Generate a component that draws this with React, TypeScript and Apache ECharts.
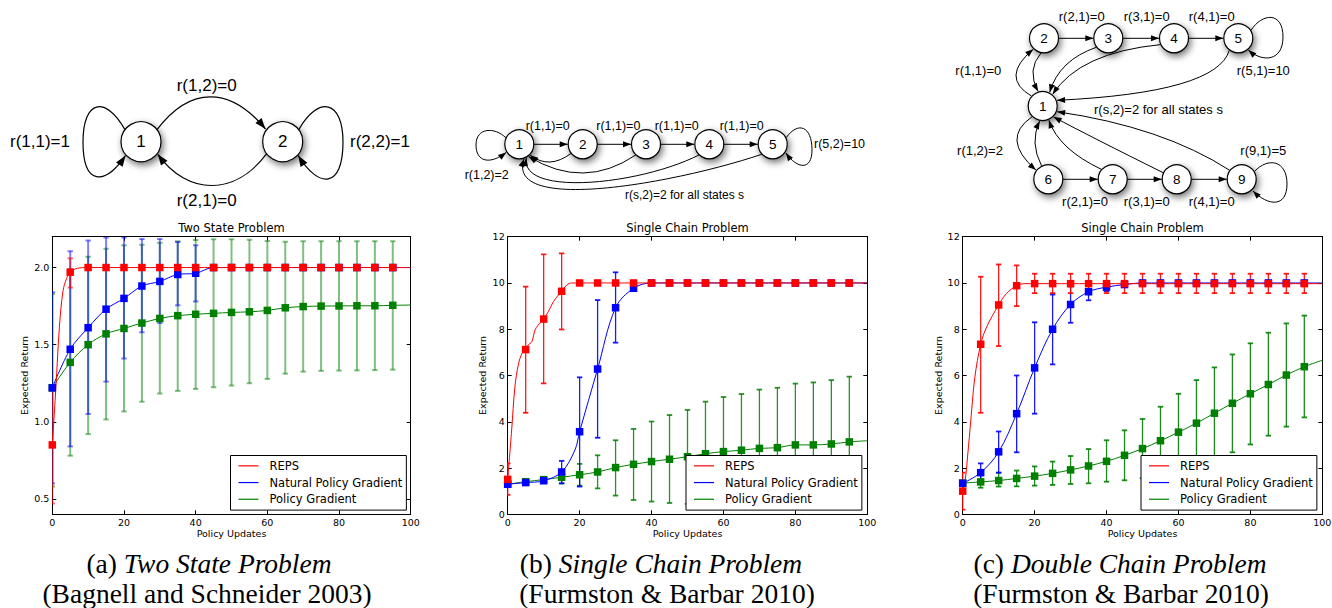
import React, { useEffect, useRef } from "react";
import * as echarts from "echarts";

// ---------------- data ----------------
const X_MARKS = [0, 5, 10, 15, 20, 25, 30, 35, 40, 45, 50, 55, 60, 65, 70, 75, 80, 85, 90, 95];
const X_TICKS = [0, 20, 40, 60, 80, 100];
const TWO_Y_TICKS = [0.5, 1.0, 1.5, 2.0];
const CHAIN_Y_TICKS = [0, 2, 4, 6, 8, 10, 12];
const ALGORITHMS = ["REPS", "Natural Policy Gradient", "Policy Gradient"];
const PLOT_TITLES = ["Two State Problem", "Single Chain Problem", "Single Chain Problem"];
const CAPTION_LETTERS = ["(a) ", "(b) ", "(c) "];
const CAPTION_NAMES = ["Two State Problem", "Single Chain Problem", "Double Chain Problem"];
const CAPTION_REFS = ["(Bagnell and Schneider 2003)", "(Furmston & Barbar 2010)", "(Furmston & Barbar 2010)"];

// Two State Problem
const TWO_REPS_MEAN = [0.85, 1.97, 2.0, 2.0, 2.0, 2.0, 2.0, 2.0, 2.0, 2.0, 2.0, 2.0, 2.0, 2.0, 2.0, 2.0, 2.0, 2.0, 2.0, 2.0];
const TWO_REPS_LO = [0.47, 1.87, 2.0, 2.0, 2.0, 2.0, 2.0, 2.0, 2.0, 2.0, 2.0, 2.0, 2.0, 2.0, 2.0, 2.0, 2.0, 2.0, 2.0, 2.0];
const TWO_REPS_HI = [1.23, 2.06, 2.0, 2.0, 2.0, 2.0, 2.0, 2.0, 2.0, 2.0, 2.0, 2.0, 2.0, 2.0, 2.0, 2.0, 2.0, 2.0, 2.0, 2.0];
const TWO_NPG_MEAN = [1.22, 1.47, 1.61, 1.73, 1.8, 1.88, 1.91, 1.955, 1.963, 2.0, 2.0, 2.0, 2.0, 2.0, 2.0, 2.0, 2.0, 2.0, 2.0, 2.0];
const TWO_NPG_LO = [0.6, 0.84, 1.05, 1.26, 1.41, 1.58, 1.64, 1.755, 1.78, 2.0, 2.0, 2.0, 2.0, 2.0, 2.0, 2.0, 2.0, 2.0, 2.0, 2.0];
const TWO_NPG_HI = [1.84, 2.105, 2.175, 2.195, 2.195, 2.185, 2.185, 2.165, 2.145, 2.0, 2.0, 2.0, 2.0, 2.0, 2.0, 2.0, 2.0, 2.0, 2.0, 2.0];
const TWO_PG_MEAN = [1.22, 1.385, 1.5, 1.57, 1.605, 1.64, 1.67, 1.688, 1.697, 1.703, 1.709, 1.713, 1.722, 1.739, 1.747, 1.75, 1.751, 1.752, 1.752, 1.755];
const TWO_PG_LO = [0.58, 0.78, 0.92, 1.015, 1.067, 1.13, 1.183, 1.2, 1.213, 1.224, 1.235, 1.25, 1.278, 1.312, 1.325, 1.33, 1.332, 1.333, 1.335, 1.338];
const TWO_PG_HI = [1.83, 1.99, 2.07, 2.122, 2.144, 2.148, 2.16, 2.17, 2.178, 2.183, 2.183, 2.18, 2.172, 2.168, 2.17, 2.17, 2.17, 2.17, 2.17, 2.17];
const TWO_REPS_CURVE_EXTRA = [[1, 1.22], [2, 1.62], [3, 1.85], [4, 1.93], [7, 1.995], [100, 2.0]];
const TWO_NPG_CURVE_EXTRA = [[100, 2.0]];
const TWO_PG_CURVE_EXTRA = [[100, 1.757]];

// Single Chain Problem
const SINGLE_REPS_MEAN = [1.51, 7.12, 8.44, 9.64, 10, 10, 10, 10, 10, 10, 10, 10, 10, 10, 10, 10, 10, 10, 10, 10];
const SINGLE_REPS_LO = [0.84, 4.39, 5.66, 7.99, 10, 10, 10, 10, 10, 10, 10, 10, 10, 10, 10, 10, 10, 10, 10, 10];
const SINGLE_REPS_HI = [2.2, 9.84, 11.24, 11.28, 10, 10, 10, 10, 10, 10, 10, 10, 10, 10, 10, 10, 10, 10, 10, 10];
const SINGLE_NPG_MEAN = [1.3, 1.37, 1.45, 1.83, 3.57, 6.28, 8.93, 9.77, 10, 10, 10, 10, 10, 10, 10, 10, 10, 10, 10, 10];
const SINGLE_NPG_LO = [1.27, 1.32, 1.39, 1.34, 1.2, 3.31, 7.42, 9.68, 10, 10, 10, 10, 10, 10, 10, 10, 10, 10, 10, 10];
const SINGLE_NPG_HI = [1.33, 1.42, 1.51, 2.31, 5.92, 9.26, 10.46, 9.86, 10, 10, 10, 10, 10, 10, 10, 10, 10, 10, 10, 10];
const SINGLE_PG_MEAN = [1.3, 1.41, 1.5, 1.6, 1.71, 1.83, 2.02, 2.16, 2.28, 2.38, 2.49, 2.62, 2.71, 2.77, 2.85, 2.88, 3.0, 3.0, 3.04, 3.13];
const SINGLE_PG_LO = [1.26, 1.32, 1.4, 1.33, 1.24, 1.12, 0.81, 0.62, 0.55, 0.49, 0.45, 0.39, 0.33, 0.33, 0.31, 0.29, 0.35, 0.3, 0.3, 0.31];
const SINGLE_PG_HI = [1.34, 1.5, 1.6, 1.87, 2.18, 2.55, 3.2, 3.69, 4.01, 4.29, 4.51, 4.87, 5.07, 5.2, 5.39, 5.47, 5.65, 5.7, 5.8, 5.95];
const SINGLE_REPS_CURVE_EXTRA = [[1.1, 3.64], [2, 5.5], [3, 6.5], [4, 6.96], [5.7, 7.32], [6.7, 7.46], [7.6, 7.97], [8.5, 8.18], [11.3, 8.76], [12.7, 9.19], [14.1, 9.48], [16.4, 9.91], [17.8, 10.0], [100, 10.0]];
const SINGLE_NPG_CURVE_EXTRA = [[18.7, 2.78], [100, 10.0]];
const SINGLE_PG_CURVE_EXTRA = [[100, 3.18]];

// Double Chain Problem
const DOUBLE_REPS_MEAN = [1.0, 7.35, 9.05, 9.88, 9.97, 9.97, 9.97, 9.97, 9.97, 9.97, 9.97, 9.97, 9.97, 9.97, 9.97, 9.97, 9.97, 9.97, 9.97, 9.97];
const DOUBLE_REPS_LO = [0.2, 4.39, 7.27, 9.0, 9.56, 9.56, 9.56, 9.56, 9.56, 9.56, 9.56, 9.56, 9.56, 9.56, 9.56, 9.56, 9.56, 9.56, 9.56, 9.56];
const DOUBLE_REPS_HI = [1.8, 10.27, 10.8, 10.76, 10.4, 10.4, 10.4, 10.4, 10.4, 10.4, 10.4, 10.4, 10.4, 10.4, 10.4, 10.4, 10.4, 10.4, 10.4, 10.4];
const DOUBLE_NPG_MEAN = [1.34, 1.8, 2.7, 4.35, 6.33, 8.0, 9.07, 9.62, 9.82, 9.93, 10, 10, 10, 10, 10, 10, 10, 10, 10, 10];
const DOUBLE_NPG_LO = [1.3, 1.4, 1.8, 2.68, 4.35, 6.48, 8.28, 9.25, 9.65, 9.85, 9.9, 9.9, 9.9, 9.9, 9.9, 9.9, 9.9, 9.9, 9.9, 9.9];
const DOUBLE_NPG_HI = [1.38, 2.2, 3.58, 6.0, 8.3, 9.5, 9.85, 10.0, 9.99, 10.01, 10.1, 10.1, 10.1, 10.1, 10.1, 10.1, 10.1, 10.1, 10.1, 10.1];
const DOUBLE_PG_MEAN = [1.35, 1.4, 1.46, 1.55, 1.65, 1.77, 1.92, 2.09, 2.29, 2.55, 2.84, 3.18, 3.55, 3.94, 4.37, 4.8, 5.21, 5.61, 6.02, 6.38];
const DOUBLE_PG_LO = [1.3, 1.15, 1.2, 1.21, 1.24, 1.27, 1.31, 1.34, 1.41, 1.47, 1.56, 1.72, 1.9, 2.08, 2.38, 2.68, 3.02, 3.4, 3.79, 4.19];
const DOUBLE_PG_HI = [1.4, 1.7, 1.8, 1.89, 2.07, 2.28, 2.52, 2.82, 3.2, 3.63, 4.12, 4.65, 5.21, 5.8, 6.35, 6.91, 7.39, 7.85, 8.25, 8.59];
const DOUBLE_REPS_CURVE_EXTRA = [[0.6, 1.34], [1.6, 2.92], [2.5, 4.51], [3.4, 5.95], [6.7, 8.11], [12.2, 9.55], [17.3, 9.97], [100, 9.97]];
const DOUBLE_NPG_CURVE_EXTRA = [[100, 10.0]];
const DOUBLE_PG_CURVE_EXTRA = [[100, 6.66]];

// ---------------- styling / layout ----------------
const COLORS = ["#ff0000", "#0000ff", "#008000"];
const ERR_COLORS = [
  ["rgba(255,0,0,0.55)", "rgba(0,0,255,0.5)", "rgba(0,128,0,0.5)"],
  ["rgba(255,0,0,0.9)", "rgba(0,0,255,0.9)", "rgba(0,128,0,0.85)"],
  ["rgba(255,0,0,0.9)", "rgba(0,0,255,0.9)", "rgba(0,128,0,0.9)"],
];
const FONT = "DejaVu Sans";
const GRID_LEFT = [52.3, 507.7, 962.7];
const GRID_W = [358.4, 359.6, 359.6];
const GRID_TOP = 236.7;
const GRID_H = 277.6;
const YNAME_GAP = [22.5, 20, 19];
const LEGEND_LEFT = [230.5, 686, 1141];

type Pt = [number, number];

const PANELS = [
  {
    yMin: 0.4, yMax: 2.2, yTicks: TWO_Y_TICKS, fmt: (v: number) => v.toFixed(1), stem: 2, cap: 2,
    algos: [
      { mean: TWO_REPS_MEAN, lo: TWO_REPS_LO, hi: TWO_REPS_HI, extra: TWO_REPS_CURVE_EXTRA },
      { mean: TWO_NPG_MEAN, lo: TWO_NPG_LO, hi: TWO_NPG_HI, extra: TWO_NPG_CURVE_EXTRA },
      { mean: TWO_PG_MEAN, lo: TWO_PG_LO, hi: TWO_PG_HI, extra: TWO_PG_CURVE_EXTRA },
    ],
  },
  {
    yMin: 0, yMax: 12, yTicks: CHAIN_Y_TICKS, fmt: (v: number) => String(v), stem: 1.3, cap: 1.8,
    algos: [
      { mean: SINGLE_REPS_MEAN, lo: SINGLE_REPS_LO, hi: SINGLE_REPS_HI, extra: SINGLE_REPS_CURVE_EXTRA },
      { mean: SINGLE_NPG_MEAN, lo: SINGLE_NPG_LO, hi: SINGLE_NPG_HI, extra: SINGLE_NPG_CURVE_EXTRA },
      { mean: SINGLE_PG_MEAN, lo: SINGLE_PG_LO, hi: SINGLE_PG_HI, extra: SINGLE_PG_CURVE_EXTRA },
    ],
  },
  {
    yMin: 0, yMax: 12, yTicks: CHAIN_Y_TICKS, fmt: (v: number) => String(v), stem: 1.3, cap: 1.8,
    algos: [
      { mean: DOUBLE_REPS_MEAN, lo: DOUBLE_REPS_LO, hi: DOUBLE_REPS_HI, extra: DOUBLE_REPS_CURVE_EXTRA },
      { mean: DOUBLE_NPG_MEAN, lo: DOUBLE_NPG_LO, hi: DOUBLE_NPG_HI, extra: DOUBLE_NPG_CURVE_EXTRA },
      { mean: DOUBLE_PG_MEAN, lo: DOUBLE_PG_LO, hi: DOUBLE_PG_HI, extra: DOUBLE_PG_CURVE_EXTRA },
    ],
  },
];

function errorBarSeries(gi: number, rows: number[][], color: string, stemW: number, capW: number) {
  const capHalf = 2.7;
  return {
    type: "custom",
    xAxisIndex: gi,
    yAxisIndex: gi,
    data: rows,
    clip: true,
    silent: true,
    z: 2,
    encode: { x: 0, y: [1, 2] },
    renderItem: (_params: any, api: any) => {
      const x = api.value(0);
      const a = api.coord([x, api.value(1)]);
      const b = api.coord([x, api.value(2)]);
      return {
        type: "group",
        children: [
          { type: "line", shape: { x1: a[0], y1: a[1], x2: b[0], y2: b[1] }, style: { stroke: color, lineWidth: stemW } },
          { type: "line", shape: { x1: a[0] - capHalf, y1: a[1], x2: a[0] + capHalf, y2: a[1] }, style: { stroke: color, lineWidth: capW } },
          { type: "line", shape: { x1: b[0] - capHalf, y1: b[1], x2: b[0] + capHalf, y2: b[1] }, style: { stroke: color, lineWidth: capW } },
        ],
      };
    },
  };
}

function buildSeries() {
  const series: any[] = [];
  PANELS.forEach((p, gi) => {
    [2, 1, 0].forEach((ai) => {
      const al = p.algos[ai];
      const rows = X_MARKS.map((x, i) => [x, al.lo[i], al.hi[i]]).filter((r) => r[2] - r[1] > 0.001);
      series.push(errorBarSeries(gi, rows, ERR_COLORS[gi][ai], p.stem, p.cap));
    });
    [2, 1, 0].forEach((ai) => {
      const al = p.algos[ai];
      const pts: number[][] = X_MARKS.map((x, i) => [x, al.mean[i]]).concat(al.extra as number[][]);
      pts.sort((a, b) => a[0] - b[0]);
      series.push({
        type: "line",
        name: ALGORITHMS[ai],
        xAxisIndex: gi,
        yAxisIndex: gi,
        data: pts,
        smooth: 0.35,
        showSymbol: false,
        symbol: "none",
        color: COLORS[ai],
        lineStyle: { color: COLORS[ai], width: 1 },
        z: 3,
        silent: true,
        clip: true,
      });
    });
    [2, 1, 0].forEach((ai) => {
      const al = p.algos[ai];
      series.push({
        type: "scatter",
        xAxisIndex: gi,
        yAxisIndex: gi,
        data: X_MARKS.map((x, i) => [x, al.mean[i]]),
        symbol: "rect",
        symbolSize: 7.5,
        itemStyle: { color: COLORS[ai], opacity: 1 },
        z: 4,
        silent: true,
      });
    });
  });
  return series;
}

// ---------------- diagram helpers ----------------
function head(tip: Pt, from: Pt, len: number, w: number) {
  const dx = tip[0] - from[0];
  const dy = tip[1] - from[1];
  const d = Math.hypot(dx, dy) || 1;
  const ux = dx / d, uy = dy / d;
  const bx = tip[0] - ux * len, by = tip[1] - uy * len;
  return {
    type: "polygon",
    silent: true,
    z: 20,
    shape: { points: [tip, [bx - (uy * w) / 2, by + (ux * w) / 2], [bx + (uy * w) / 2, by - (ux * w) / 2]] },
    style: { fill: "#000" },
  };
}
function curve(p0: Pt, c1: Pt, c2: Pt, p3: Pt, lw: number) {
  return { type: "bezierCurve", silent: true, z: 19, shape: { x1: p0[0], y1: p0[1], x2: p3[0], y2: p3[1], cpx1: c1[0], cpy1: c1[1], cpx2: c2[0], cpy2: c2[1] }, style: { stroke: "#000", fill: "none", lineWidth: lw } };
}
function quadArrow(p0: Pt, m: Pt, p2: Pt, len: number, w: number, lw: number) {
  const c: Pt = [2 * m[0] - (p0[0] + p2[0]) / 2, 2 * m[1] - (p0[1] + p2[1]) / 2];
  return [
    { type: "bezierCurve", silent: true, z: 19, shape: { x1: p0[0], y1: p0[1], x2: p2[0], y2: p2[1], cpx1: c[0], cpy1: c[1] }, style: { stroke: "#000", fill: "none", lineWidth: lw } },
    head(p2, c, len, w),
  ];
}
function cubicArrow(p0: Pt, c1: Pt, c2: Pt, p3: Pt, len: number, w: number, lw: number) {
  return [curve(p0, c1, c2, p3, lw), head(p3, c2, len, w)];
}
// self loop drawn as two cubic pieces meeting at the outermost point m
function loopArrow(p0: Pt, a1: Pt, a2: Pt, m: Pt, b1: Pt, b2: Pt, tip: Pt, len: number, w: number, lw: number) {
  return [curve(p0, a1, a2, m, lw), curve(m, b1, b2, tip, lw), head(tip, b2, len, w)];
}
function straightArrow(p0: Pt, p2: Pt, len: number, w: number, lw: number) {
  return [
    { type: "line", silent: true, z: 19, shape: { x1: p0[0], y1: p0[1], x2: p2[0], y2: p2[1] }, style: { stroke: "#000", lineWidth: lw } },
    head(p2, p0, len, w),
  ];
}
function node(cx: number, cy: number, r: number, label: string, fs: number) {
  return [
    {
      type: "circle", silent: true, z: 21,
      shape: { cx, cy, r },
      style: { fill: "#fff", stroke: "#000", lineWidth: 1.2, shadowBlur: 7, shadowColor: "rgba(0,0,0,0.55)", shadowOffsetX: 2, shadowOffsetY: 3 },
    },
    { type: "text", silent: true, z: 22, x: cx, y: cy, style: { text: label, fontFamily: "Liberation Sans", fontSize: fs, fill: "#000", align: "center", verticalAlign: "middle" } },
  ];
}
function label(x: number, y: number, text: string, fs: number, align = "center") {
  return { type: "text", silent: true, z: 22, x, y, style: { text, fontFamily: "Liberation Sans", fontSize: fs, fill: "#000", align, verticalAlign: "middle" } };
}

function buildDiagrams() {
  const els: any[] = [];
  // ---- diagram (a): two states ----
  els.push(
    ...cubicArrow([157, 129.7], [190, 86], [230, 86], [265.5, 129], 11, 8, 1.2),
    ...cubicArrow([266.7, 153.7], [235, 196], [188, 196], [157.8, 154.3], 11, 8, 1.2),
    ...loopArrow([125, 129.7], [105, 95], [83, 100], [83, 142], [83, 186], [105, 186], [125.5, 155.5], 11, 8, 1.2),
    ...loopArrow([298.7, 129.7], [318.7, 95], [343, 100], [343, 142], [343, 189], [318.7, 189], [298.2, 155.5], 11, 8, 1.2),
    ...node(141, 141.7, 20, "1", 17),
    ...node(282.7, 141.7, 20, "2", 17),
    label(206.7, 85, "r(1,2)=0", 17),
    label(206.7, 200, "r(2,1)=0", 17),
    label(40, 141.7, "r(1,1)=1", 17),
    label(380, 141.7, "r(2,2)=1", 17)
  );

  // ---- diagram (b): single chain ----
  const by = 144.3;
  const bx = [519.3, 582.7, 646, 709.3, 772.7];
  const r2 = 14.5;
  for (let i = 0; i < 4; i++) els.push(...straightArrow([bx[i] + r2, by], [bx[i + 1] - r2 - 0.5, by], 8, 6, 1));
  els.push(
    ...loopArrow([505.8, 137.7], [495, 127], [476, 127], [476, 145], [476, 162], [490, 165], [506.1, 152.5], 8, 6, 1),
    ...loopArrow([786.2, 137.7], [798, 121], [812, 126], [812, 150], [812, 171], [797, 169], [785.9, 153], 8, 6, 1),
    ...quadArrow([571.2, 153.3], [550, 162], [530.2, 155.2], 8, 6, 1),
    ...quadArrow([636, 154.8], [583, 173], [528.6, 156.5], 8, 6, 1),
    ...cubicArrow([699.3, 154.8], [640, 185], [520, 197], [526.3, 158.1], 8, 6, 1),
    ...cubicArrow([761.7, 154.3], [680, 182], [505, 215], [524, 159], 8, 6, 1)
  );
  bx.forEach((x, i) => els.push(...node(x, by, r2, String(i + 1), 13.5)));
  els.push(
    label(547.7, 125.7, "r(1,1)=0", 12.5),
    label(618.3, 125.7, "r(1,1)=0", 12.5),
    label(676.7, 125.7, "r(1,1)=0", 12.5),
    label(741.7, 125.7, "r(1,1)=0", 12.5),
    label(814, 144.3, "r(5,2)=10", 12.5, "left"),
    label(486.7, 175, "r(1,2)=2", 12.5),
    label(625, 195, "r(s,2)=2 for all states s", 12, "left")
  );

  // ---- diagram (c): double chain ----
  const N: Record<number, Pt> = {
    1: [1042.7, 106], 2: [1044, 38.3], 3: [1108.3, 38.3], 4: [1174, 38.3], 5: [1238.3, 38.3],
    6: [1048.3, 179.3], 7: [1112.7, 179.3], 8: [1176.7, 179.3], 9: [1241.7, 179.3],
  };
  [[2, 3], [3, 4], [4, 5], [6, 7], [7, 8], [8, 9]].forEach(([a, b]) =>
    els.push(...straightArrow([N[a][0] + r2, N[a][1]], [N[b][0] - r2 - 0.5, N[b][1]], 8, 6, 1))
  );
  els.push(
    ...quadArrow([1031.5, 96.1], [1016, 75], [1033.2, 49.3], 8, 6, 1),
    ...quadArrow([1041, 53], [1033, 71], [1038, 91.3], 8, 6, 1),
    ...quadArrow([1096.3, 47.3], [1066, 65], [1049.7, 92.2], 8, 6, 1),
    ...quadArrow([1160.5, 44.6], [1093, 61], [1052.8, 94.2], 8, 6, 1),
    ...quadArrow([1229.3, 50.3], [1180, 84], [1057.1, 100.3], 8, 6, 1),
    ...loopArrow([1251, 30.3], [1262, 13], [1283, 11], [1283, 37], [1283, 61], [1263, 63], [1248.4, 50.1], 8, 6, 1),
    ...quadArrow([1032.2, 116.7], [1017, 141], [1035.9, 170], 8, 6, 1),
    ...quadArrow([1041.6, 165.9], [1035, 143], [1039.6, 121.2], 8, 6, 1),
    ...quadArrow([1101.5, 169.4], [1067, 147], [1048.9, 120.3], 8, 6, 1),
    ...quadArrow([1163.2, 172.7], [1100, 141], [1053.6, 117], 8, 6, 1),
    ...quadArrow([1229.7, 170.3], [1153, 134], [1057.1, 111.7], 8, 6, 1),
    ...loopArrow([1254.5, 171.4], [1268, 157], [1287, 160], [1287, 184], [1287, 208], [1268, 206], [1253, 191], 8, 6, 1)
  );
  Object.keys(N).forEach((k) => els.push(...node(N[+k][0], N[+k][1], r2, k, 13.5)));
  els.push(
    label(1081.7, 16, "r(2,1)=0", 13),
    label(1146.7, 16, "r(3,1)=0", 13),
    label(1211.7, 16, "r(4,1)=0", 13),
    label(1263.3, 70, "r(5,1)=10", 13),
    label(978.3, 70, "r(1,1)=0", 13),
    label(1094, 109.3, "r(s,2)=2 for all states s", 13, "left"),
    label(980, 150, "r(1,2)=2", 13),
    label(1263.3, 150, "r(9,1)=5", 13),
    label(1085, 201.7, "r(2,1)=0", 13),
    label(1146.7, 201.7, "r(3,1)=0", 13),
    label(1211.7, 201.7, "r(4,1)=0", 13)
  );

  // ---- captions ----
  const capX1 = [209, 661, 1120];
  const capX2 = [207, 667, 1121];
  CAPTION_NAMES.forEach((name, i) => {
    els.push({
      type: "text", silent: true, x: capX1[i], y: 563,
      style: {
        text: CAPTION_LETTERS[i] + "{i|" + name + "}",
        fontFamily: "Liberation Serif", fontSize: 27.5, fill: "#000", align: "center", verticalAlign: "middle",
        rich: { i: { fontFamily: "Liberation Serif", fontSize: 27.5, fontStyle: "italic", fill: "#000" } },
      },
    });
    els.push({
      type: "text", silent: true, x: capX2[i], y: 593,
      style: { text: CAPTION_REFS[i], fontFamily: "Liberation Serif", fontSize: 27.5, fill: "#000", align: "center", verticalAlign: "middle" },
    });
  });
  return els;
}

function buildOption() {
  const tickStyle = { inside: true, length: 4, lineStyle: { color: "#000", width: 1 } };
  const axisLine = { show: true, onZero: false, lineStyle: { color: "#000", width: 1 } };
  const labelStyle = { fontFamily: FONT, fontSize: 9.5, color: "#000" };
  const xAxis: any[] = [];
  const yAxis: any[] = [];
  PANELS.forEach((p, gi) => {
    xAxis.push({
      type: "value", gridIndex: gi, min: 0, max: 100, position: "bottom",
      axisLine, splitLine: { show: false },
      axisTick: { ...tickStyle, customValues: X_TICKS },
      axisLabel: { ...labelStyle, margin: 3, customValues: X_TICKS },
      name: "Policy Updates", nameLocation: "middle", nameGap: 13.5,
      nameTextStyle: { fontFamily: FONT, fontSize: 9.5, color: "#000" },
    });
    yAxis.push({
      type: "value", gridIndex: gi, min: p.yMin, max: p.yMax, position: "left",
      axisLine, splitLine: { show: false },
      axisTick: { ...tickStyle, customValues: p.yTicks },
      axisLabel: { ...labelStyle, margin: 3, customValues: p.yTicks, formatter: p.fmt },
      name: "Expected Return", nameLocation: "middle", nameGap: YNAME_GAP[gi],
      nameTextStyle: { fontFamily: FONT, fontSize: 9.5, color: "#000" },
    });
  });
  PANELS.forEach((p, gi) => {
    xAxis.push({
      type: "value", gridIndex: gi, min: 0, max: 100, position: "top",
      axisLine, splitLine: { show: false },
      axisTick: { ...tickStyle, customValues: X_TICKS },
      axisLabel: { show: false },
    });
    yAxis.push({
      type: "value", gridIndex: gi, min: p.yMin, max: p.yMax, position: "right",
      axisLine, splitLine: { show: false },
      axisTick: { ...tickStyle, customValues: p.yTicks },
      axisLabel: { show: false },
    });
  });

  return {
    animation: false,
    backgroundColor: "#fff",
    title: PLOT_TITLES.map((t, i) => ({
      text: t,
      left: GRID_LEFT[i] + GRID_W[i] / 2,
      top: 221.5,
      textAlign: "center",
      padding: 0,
      textStyle: { fontFamily: FONT, fontSize: 11.5, fontWeight: "normal", color: "#000" },
    })),
    legend: LEGEND_LEFT.map((l) => ({
      left: l,
      top: 455.5,
      orient: "vertical",
      data: ALGORITHMS,
      icon: "rect",
      itemWidth: 20,
      itemHeight: 1.2,
      itemGap: 0,
      padding: [2, 4, 2.5, 8],
      backgroundColor: "#fff",
      borderColor: "#000",
      borderWidth: 1,
      borderRadius: 0,
      selectedMode: false,
      z: 10,
      textStyle: { fontFamily: FONT, fontSize: 11.5, color: "#000", lineHeight: 16.7, padding: [0, 0, 0, 6] },
    })),
    grid: GRID_LEFT.map((l, i) => ({ left: l, top: GRID_TOP, width: GRID_W[i], height: GRID_H, outerBoundsMode: "none", containLabel: false })),
    xAxis,
    yAxis,
    series: buildSeries(),
    graphic: { elements: buildDiagrams() },
  };
}

export default function App() {
  const ref = useRef<HTMLDivElement>(null);
  useEffect(() => {
    const chart = echarts.init(ref.current as HTMLDivElement, null, { renderer: "svg" });
    chart.setOption(buildOption() as any);
    return () => chart.dispose();
  }, []);
  return (
    <div
      ref={ref}
      style={{ position: "absolute", left: 0, top: 0, width: 1332, height: 608, background: "#fff" }}
    />
  );
}
